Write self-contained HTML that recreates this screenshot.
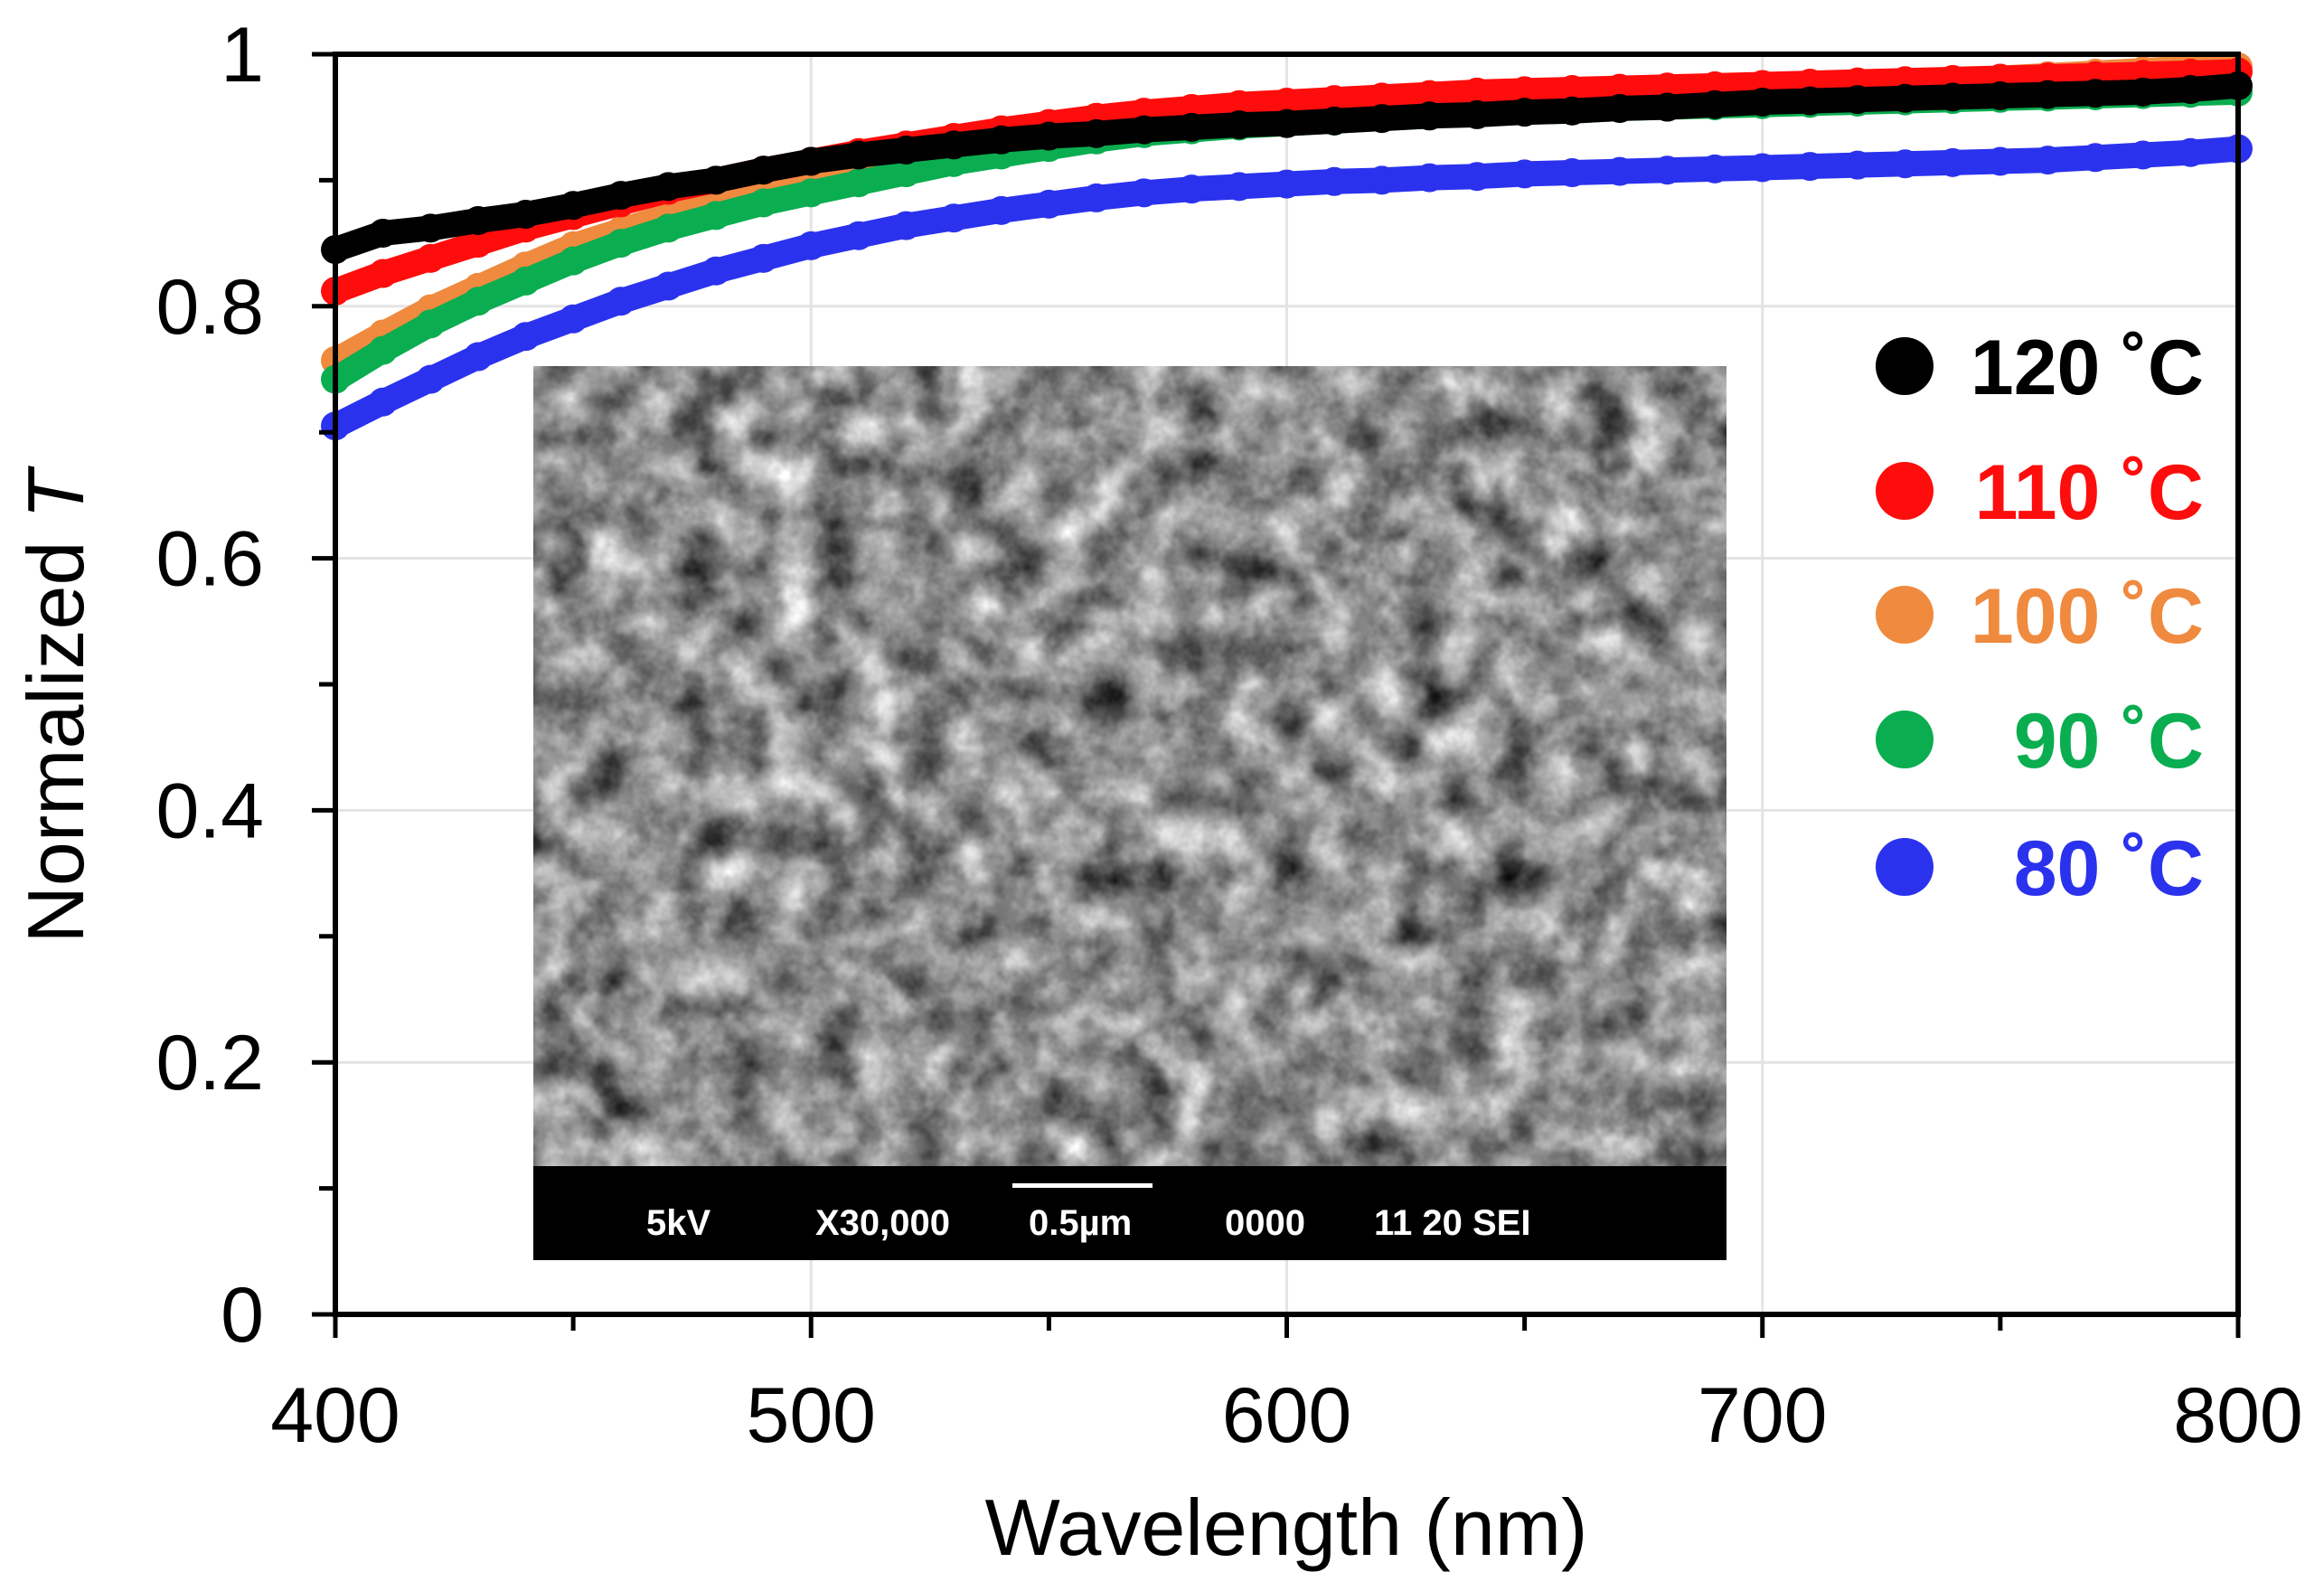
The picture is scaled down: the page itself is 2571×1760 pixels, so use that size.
<!DOCTYPE html>
<html><head><meta charset="utf-8"><style>
html,body{margin:0;padding:0;background:#fff;}
svg{display:block;font-family:"Liberation Sans",Arial,sans-serif;}
</style></head><body>
<svg id="chart" width="2571" height="1760" viewBox="0 0 2571 1760" xmlns="http://www.w3.org/2000/svg">
<defs>
<filter id="sem" x="0" y="0" width="100%" height="100%" color-interpolation-filters="sRGB">
<feTurbulence type="fractalNoise" baseFrequency="0.02" numOctaves="4" seed="7" result="n"/>
<feColorMatrix in="n" type="matrix" values="0.75 0.75 0 0 -0.2  0.75 0.75 0 0 -0.2  0.75 0.75 0 0 -0.2  0 0 0 0 1"/>
</filter>
</defs>
<g id="grid"></g>
<g id="inset">
<rect x="590" y="405" width="1320" height="885" fill="#888" filter="url(#sem)"/>
<rect x="590" y="1290" width="1320" height="104" fill="#000"/>
<g font-weight="bold" font-size="40" fill="#fff">
<text x="715" y="1366">5kV</text>
<text x="902" y="1366">X30,000</text>
<text x="1138" y="1366">0.5µm</text>
<text x="1355" y="1366">0000</text>
<text x="1520" y="1366">11 20 SEI</text>
</g>
<rect x="1120" y="1309" width="155" height="5" fill="#fff"/>
</g>
<g id="series"></g>
<g id="axes"></g>
<g id="legend"></g>
</svg>
<script>
const xTicks = [400, 500, 600, 700, 800];
const yTicks = [0, 0.2, 0.4, 0.6, 0.8, 1];
const yTickLabels = ["0", "0.2", "0.4", "0.6", "0.8", "1"];
const wavelengths = [400,410,420,430,440,450,460,470,480,490,500,510,520,530,540,550,560,570,580,590,600,610,620,630,640,650,660,670,680,690,700,710,720,730,740,750,760,770,780,790,800];
const seriesNames = ["80 ˚C", "90 ˚C", "100 ˚C", "110 ˚C", "120 ˚C"];
const t120 = [0.845,0.858,0.862,0.868,0.873,0.880,0.888,0.895,0.900,0.908,0.915,0.920,0.924,0.928,0.932,0.935,0.937,0.940,0.942,0.944,0.945,0.947,0.949,0.951,0.952,0.954,0.955,0.957,0.958,0.960,0.962,0.963,0.964,0.965,0.966,0.967,0.968,0.969,0.970,0.972,0.975];
const t110 = [0.812,0.826,0.838,0.850,0.862,0.872,0.882,0.892,0.900,0.908,0.915,0.922,0.928,0.934,0.940,0.945,0.950,0.954,0.957,0.960,0.962,0.964,0.966,0.968,0.970,0.971,0.972,0.973,0.974,0.975,0.976,0.977,0.978,0.979,0.980,0.981,0.982,0.983,0.984,0.985,0.986];
const t100 = [0.757,0.778,0.798,0.815,0.832,0.848,0.860,0.872,0.882,0.892,0.900,0.908,0.915,0.922,0.928,0.934,0.938,0.942,0.945,0.948,0.950,0.953,0.955,0.957,0.959,0.961,0.963,0.965,0.967,0.969,0.971,0.973,0.975,0.977,0.979,0.981,0.983,0.985,0.987,0.989,0.990];
const t90 = [0.742,0.765,0.786,0.804,0.820,0.836,0.850,0.862,0.872,0.882,0.890,0.898,0.906,0.914,0.920,0.926,0.932,0.937,0.940,0.943,0.945,0.947,0.949,0.951,0.953,0.954,0.955,0.957,0.958,0.959,0.960,0.961,0.962,0.963,0.964,0.965,0.966,0.967,0.968,0.969,0.970];
const t80 = [0.705,0.724,0.742,0.760,0.776,0.790,0.804,0.816,0.828,0.838,0.848,0.856,0.864,0.870,0.876,0.881,0.886,0.890,0.893,0.895,0.897,0.899,0.900,0.902,0.903,0.905,0.906,0.907,0.908,0.909,0.910,0.911,0.912,0.913,0.914,0.915,0.916,0.918,0.920,0.922,0.925];

const NS = "http://www.w3.org/2000/svg";
const X0 = 371, X1 = 2476, Y0 = 1454, Y1 = 60;
const xs = v => X0 + (v - 400) / 400 * (X1 - X0);
const ys = v => Y0 - v * (Y0 - Y1);
function mk(tag, attrs, parent) {
  const e = document.createElementNS(NS, tag);
  for (const k in attrs) e.setAttribute(k, attrs[k]);
  parent.appendChild(e);
  return e;
}
const grid = document.getElementById("grid");
const axes = document.getElementById("axes");
const seriesG = document.getElementById("series");
const legend = document.getElementById("legend");

xTicks.forEach(v => {
  const l = mk("line", {x1: xs(v), x2: xs(v), y1: Y1, y2: Y0, stroke: "#e4e4e4", "stroke-width": 3}, grid);
  
  
});
yTicks.forEach(v => {
  const l = mk("line", {x1: X0, x2: X1, y1: ys(v), y2: ys(v), stroke: "#e4e4e4", "stroke-width": 3}, grid);
  
  
});

const colors = ["#2b32ee", "#0aad50", "#ef8a3e", "#ff0c0c", "#000000"];
const data = [t80, t90, t100, t110, t120];
const order = [0, 2, 1, 3, 4];
order.forEach(i => {
  const g = mk("g", {fill: colors[i]}, seriesG);
  
  
  const pts = wavelengths.map((w, j) => xs(w) + "," + ys(data[i][j])).join(" ");
  const pl = mk("polyline", {points: pts, fill: "none", stroke: colors[i], "stroke-width": 28, "stroke-linejoin": "round", "stroke-linecap": "round"}, g);
  
  
  wavelengths.forEach((w, j) => {
    const c = mk("circle", {cx: xs(w), cy: ys(data[i][j]), r: 16}, g);
    
    
  });
});

const frame = mk("rect", {x: X0, y: Y1, width: X1 - X0, height: Y0 - Y1, fill: "none", stroke: "#000", "stroke-width": 6}, axes);


for (let v = 400; v <= 800; v += 50) {
  const major = v % 100 === 0;
  const t = mk("line", {x1: xs(v), x2: xs(v), y1: Y0, y2: Y0 + (major ? 26 : 18), stroke: "#000", "stroke-width": 5}, axes);
  
  
}
for (let k = 0; k <= 10; k++) {
  const v = k / 10;
  const major = k % 2 === 0;
  const t = mk("line", {x1: X0 - (major ? 26 : 18), x2: X0, y1: ys(v), y2: ys(v), stroke: "#000", "stroke-width": 5}, axes);
  
  
}
xTicks.forEach(v => {
  const t = mk("text", {x: xs(v), y: 1595, "font-size": 86, "text-anchor": "middle", fill: "#000"}, axes);
  t.textContent = String(v);
  
  
});
yTicks.forEach((v, i) => {
  const t = mk("text", {x: 292, y: ys(v) + 30, "font-size": 86, "text-anchor": "end", fill: "#000"}, axes);
  t.textContent = yTickLabels[i];
  
  
});
const xt = mk("text", {x: 1423, y: 1720, "font-size": 88, "text-anchor": "middle", fill: "#000"}, axes);
xt.textContent = "Wavelength (nm)";


const yt = mk("text", {x: 0, y: 0, "font-size": 88, "text-anchor": "middle", fill: "#000", transform: "translate(92,782) rotate(-90)"}, axes);


yt.appendChild(document.createTextNode("Normalized "));
const ti = mk("tspan", {"font-style": "italic"}, yt);
ti.textContent = "T";

const legendY = [405, 543, 680, 818, 959];
const legendOrder = [4, 3, 2, 1, 0];
legendOrder.forEach((i, r) => {
  const g = mk("g", {}, legend);
  
  
  const c = mk("circle", {cx: 2107, cy: legendY[r], r: 32, fill: colors[i]}, g);
  
  
  const t = mk("text", {x: 2438, y: legendY[r] + 31, "font-size": 86, "font-weight": "bold", "text-anchor": "end", fill: colors[i]}, g);
  t.textContent = seriesNames[i];
  
  
});
</script>
</body></html>
